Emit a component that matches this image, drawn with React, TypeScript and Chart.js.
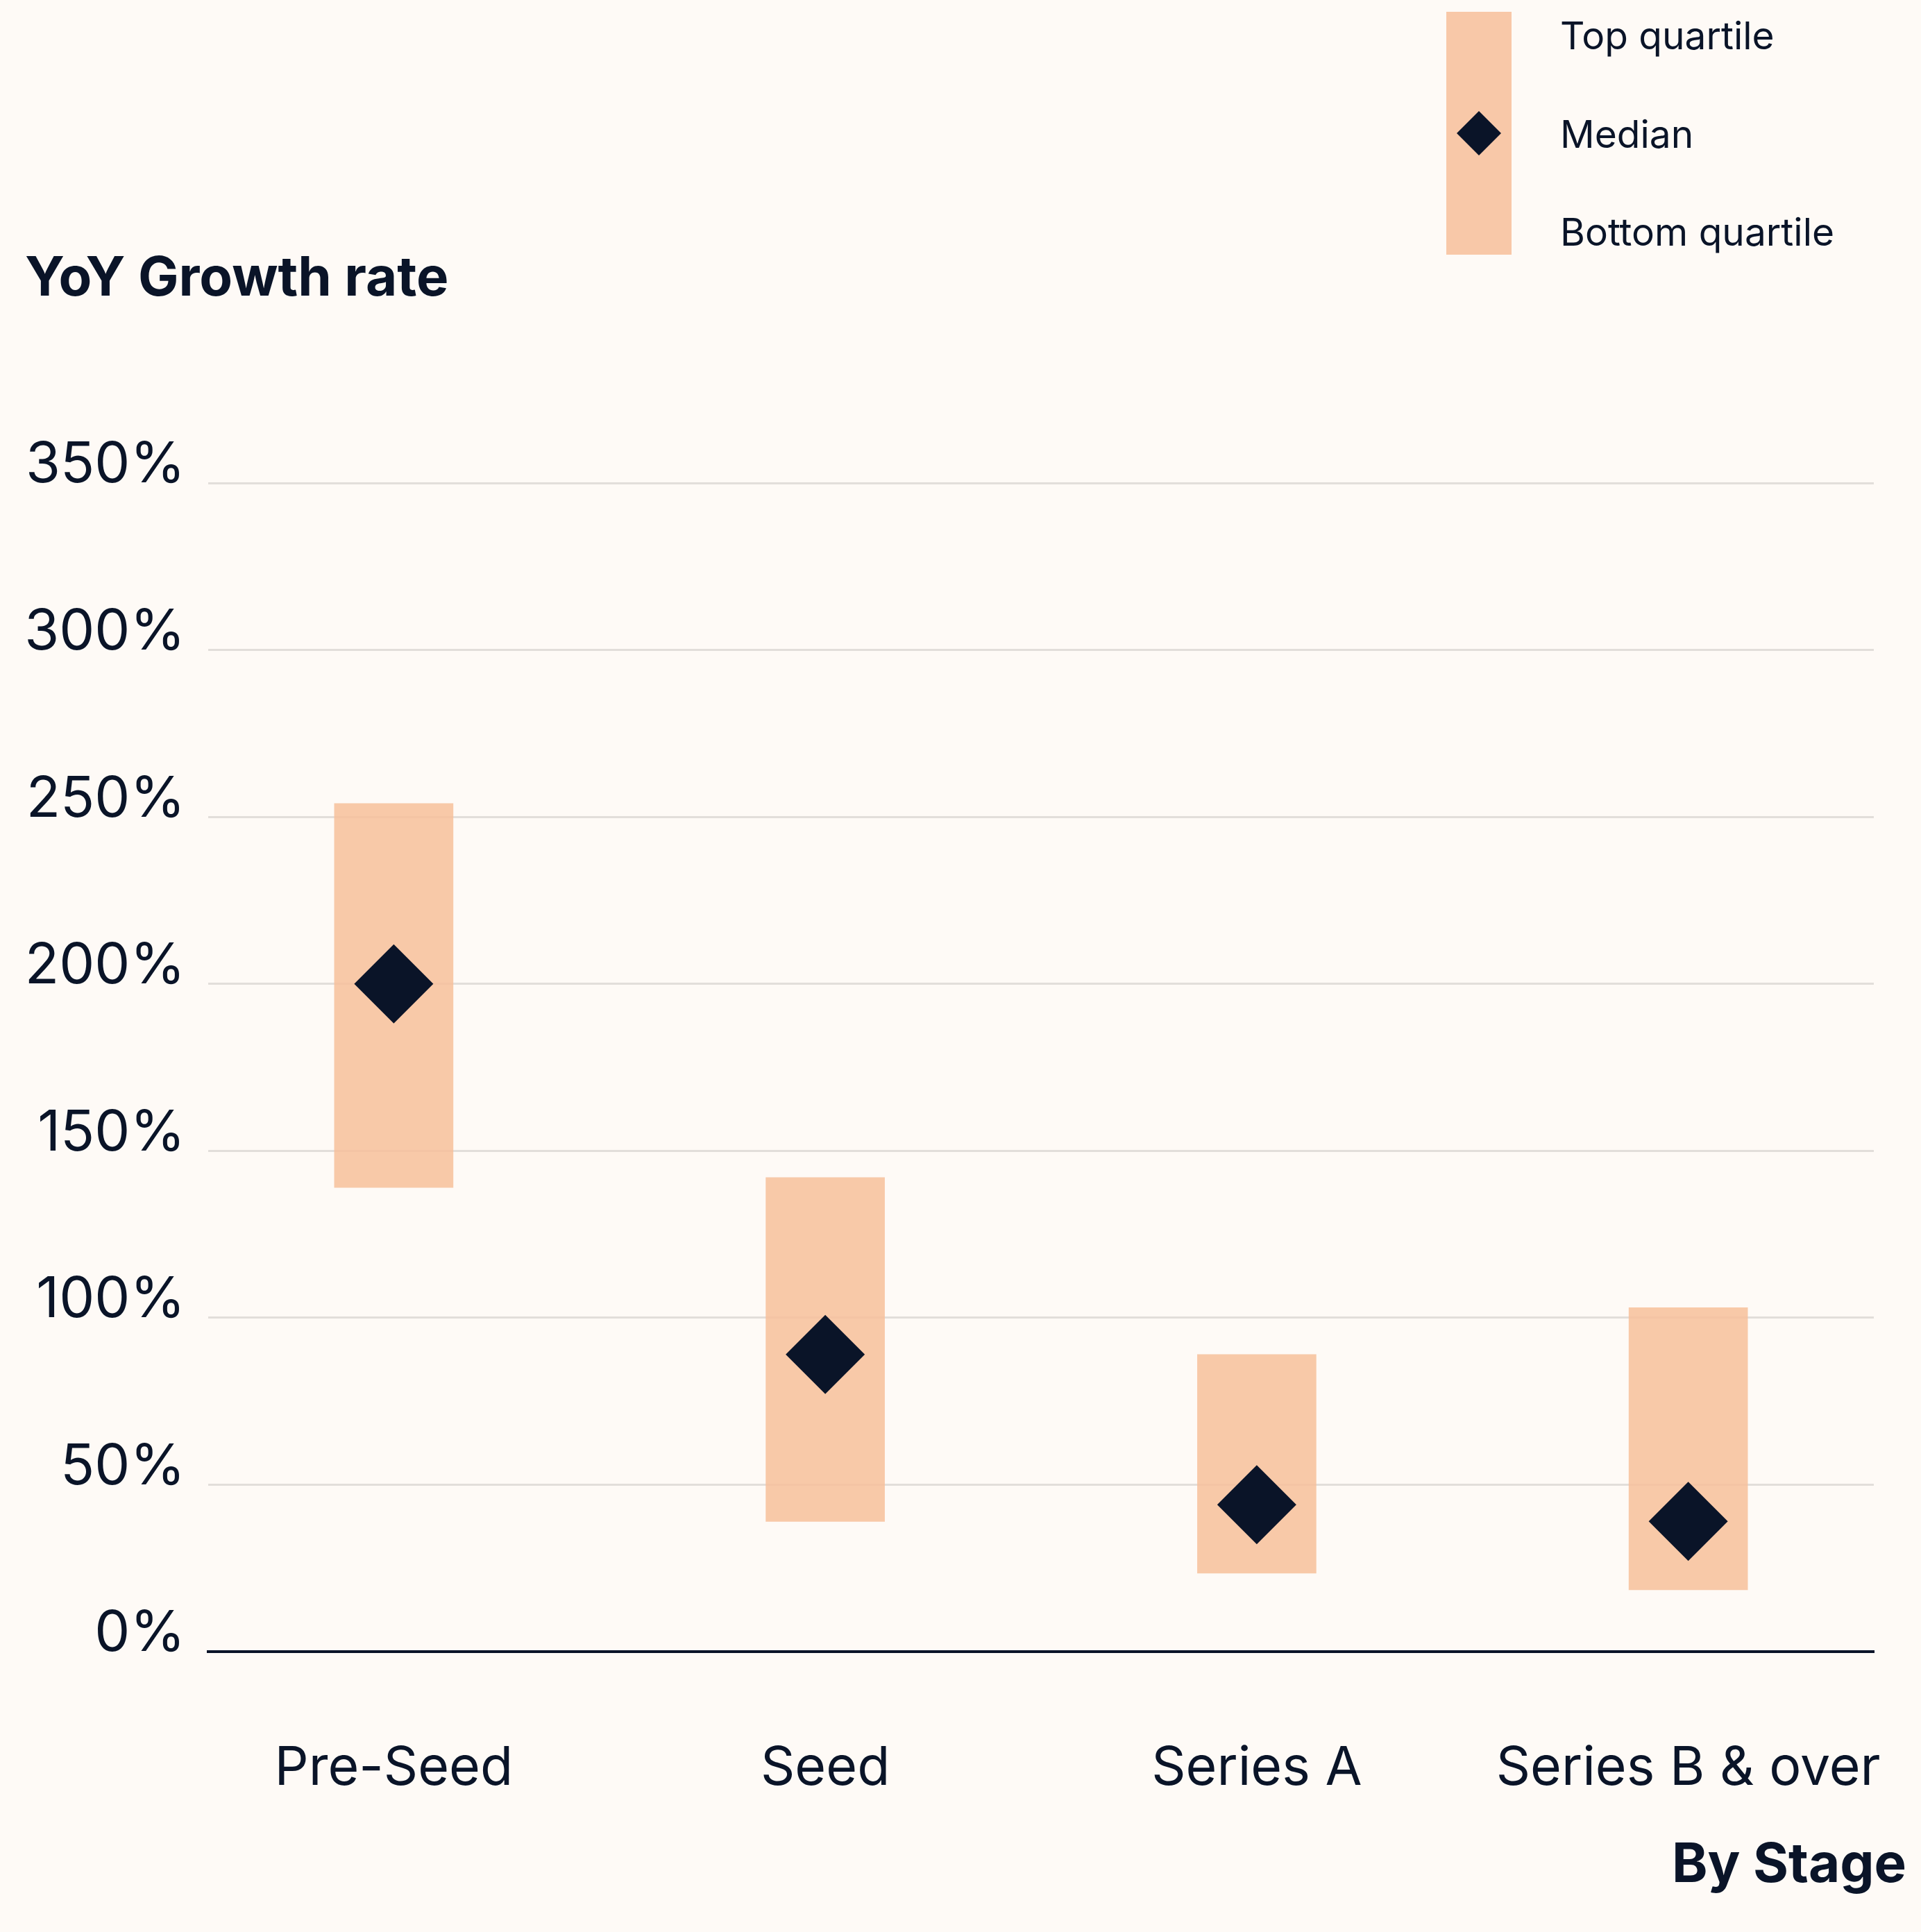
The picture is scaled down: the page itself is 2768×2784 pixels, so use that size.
import { useEffect, useRef } from "react"
import { Chart, registerables } from "chart.js"

Chart.register(...registerables)

const stages = ["Pre-Seed", "Seed", "Series A", "Series B & over"]
const topQuartile = [254, 142, 89, 103]
const bottomQuartile = [139, 39, 23.5, 18.5]
const median = [200, 89, 44, 39]
const legendLabels = ["Top quartile", "Median", "Bottom quartile"]
const yTitle = "YoY Growth rate"
const xTitle = "By Stage"

const BG = "#FEFAF6"
const INK = "#0A1428"
const PEACH = "rgba(247, 191, 154, 0.85)"
const PEACH_SOLID = "#F8C8A8"
const GRID = "#E2DEDA"
const FONT = "Inter, 'Noto Sans', sans-serif"

// background, titles and the custom legend
const decorations = {
  id: "decorations",
  beforeDraw(chart: Chart) {
    const ctx = chart.ctx
    ctx.save()
    ctx.fillStyle = BG
    ctx.fillRect(0, 0, chart.width, chart.height)
    ctx.restore()
  },
  afterDraw(chart: Chart) {
    const ctx = chart.ctx
    ctx.save()
    ctx.fillStyle = INK
    ctx.textBaseline = "alphabetic"
    ctx.font = `700 78px ${FONT}`
    ctx.textAlign = "left"
    ctx.fillText(yTitle, 36, 426)
    ctx.textAlign = "right"
    ctx.fillText(xTitle, 2747, 2712)

    // legend swatch
    ctx.fillStyle = PEACH_SOLID
    ctx.fillRect(2084, 17, 94, 350)
    ctx.fillStyle = INK
    ctx.beginPath()
    ctx.moveTo(2131 - 32, 192)
    ctx.lineTo(2131, 192 - 32)
    ctx.lineTo(2131 + 32, 192)
    ctx.lineTo(2131, 192 + 32)
    ctx.closePath()
    ctx.fill()

    ctx.font = `400 55px ${FONT}`
    ctx.textAlign = "left"
    legendLabels.forEach((label, i) => {
      ctx.fillText(label, 2248, 71 + i * 141.5)
    })
    ctx.restore()
  },
}

function StageGrowthChart() {
  const chartRef = useRef<HTMLCanvasElement>(null)
  const chartInstance = useRef<Chart | null>(null)

  useEffect(() => {
    if (!chartRef.current) return
    if (chartInstance.current) chartInstance.current.destroy()

    const ctx = chartRef.current.getContext("2d")
    if (!ctx) return

    chartInstance.current = new Chart(ctx, {
      type: "bar",
      data: {
        datasets: [
          {
            type: "scatter",
            label: "Median",
            data: median.map((v, i) => ({ x: i, y: v })),
            pointStyle: "rectRot",
            pointRadius: 57,
            pointHoverRadius: 57,
            backgroundColor: INK,
            borderWidth: 0,
            order: 1,
          },
          {
            type: "bar",
            label: "Quartile range",
            data: stages.map((_, i) => ({ x: i, y: [bottomQuartile[i], topQuartile[i]] })),
            backgroundColor: PEACH,
            borderWidth: 0,
            barThickness: 171,
            order: 2,
          },
        ] as any,
      },
      options: {
        animation: false,
        responsive: false,
        devicePixelRatio: 1,
        layout: { padding: { top: 696, right: 68, bottom: 0, left: 0 } },
        plugins: {
          legend: { display: false },
          tooltip: { enabled: false },
        },
        scales: {
          x: {
            type: "linear",
            min: -0.43,
            max: 3.43,
            offset: false,
            grid: { display: false, drawTicks: false, offset: false },
            border: { display: true, color: INK, width: 4 },
            afterBuildTicks: (scale: any) => {
              scale.ticks = stages.map((_, i) => ({ value: i }))
            },
            afterFit: (scale: any) => {
              scale.height = 404
              scale.paddingLeft = 0
              scale.paddingRight = 0
            },
            ticks: {
              padding: 123,
              color: INK,
              font: { family: FONT, size: 77 },
              maxRotation: 0,
              autoSkip: false,
              callback: (v: any) => stages[v] ?? "",
            },
          },
          y: {
            min: 0,
            max: 350,
            grid: {
              drawTicks: false,
              color: GRID,
              lineWidth: 3,
            },
            border: { display: false },
            afterFit: (scale: any) => {
              scale.width = 300
            },
            ticks: {
              stepSize: 50,
              padding: 33,
              labelOffset: -25,
              color: INK,
              font: { family: FONT, size: 81 },
              callback: (v: any) => `${v}%`,
            },
          },
        },
      },
      plugins: [decorations],
    })

    return () => {
      if (chartInstance.current) {
        chartInstance.current.destroy()
        chartInstance.current = null
      }
    }
  }, [])

  return <canvas ref={chartRef} width={2768} height={2784} style={{ display: "block" }} />
}

export default function App() {
  useEffect(() => {
    document.body.style.margin = "0"
    document.body.style.background = BG
  }, [])

  return (
    <div style={{ width: 2768, height: 2784, background: BG }}>
      <StageGrowthChart />
    </div>
  )
}
